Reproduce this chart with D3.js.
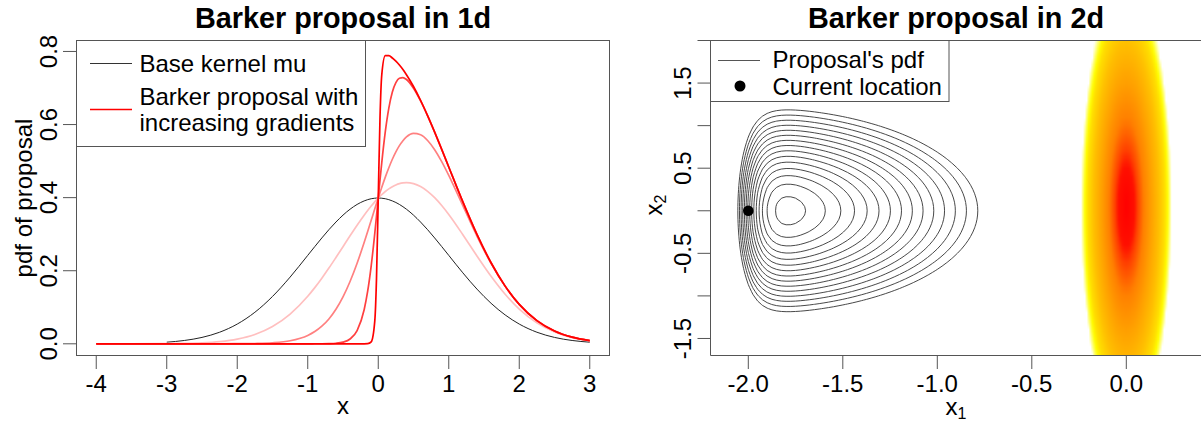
<!DOCTYPE html>
<html><head><meta charset="utf-8">
<script src="https://cdn.jsdelivr.net/npm/d3@7"></script>
<style>
body{margin:0;background:#fff;}
svg{display:block;font-family:"Liberation Sans",Arial,Helvetica,sans-serif;}
</style></head><body>
<svg id="c" width="1201" height="421"></svg>
<script>
// ================= DATA: left panel (1d) =================
const xGrid = [-4,-3.5,-3,-2.75,-2.5,-2.25,-2,-1.75,-1.5,-1.25,-1,-0.9,-0.8,-0.7,-0.6,-0.5,-0.4,-0.3,-0.2,-0.15,
  -0.1,-0.05,-0.025,0,0.025,0.05,0.1,0.15,0.2,0.25,0.3,0.35,0.4,0.5,0.6,0.7,0.8,0.9,1,1.2,1.4,1.6,1.8,2,2.25,2.5,2.75,3];
const baseKernel = [null,null,.0044,.0091,.0175,.0317,.0540,.0863,.1295,.1826,.2420,.2661,.2897,.3123,.3332,.3521,.3683,.3814,.3910,.3945,
  .3970,.3984,.3988,.3989,.3988,.3984,.3970,.3945,.3910,.3867,.3814,.3752,.3683,.3521,.3332,.3123,.2897,.2661,.2420,.1942,.1497,.1109,.0790,.0540,.0317,.0175,.0091,.0044];
const barkerGrad1 = [.0000,.0001,.0004,.0011,.0027,.0061,.0129,.0255,.0473,.0814,.1302,.1538,.1796,.2072,.2362,.2658,.2956,.3246,.3521,.3649,
  .3771,.3885,.3938,.3989,.4038,.4084,.4168,.4240,.4300,.4348,.4382,.4402,.4410,.4383,.4303,.4173,.3998,.3783,.3538,.2985,.2402,.1846,.1355,.0951,.0574,.0324,.0171,.0084];
const barkerGrad3 = [0,0,0,0,0,.0001,.0003,.0009,.0028,.0084,.0230,.0335,.0482,.0681,.0945,.1285,.1705,.2205,.2771,.3072,
  .3379,.3686,.3839,.3989,.4138,.4283,.4561,.4818,.5050,.5252,.5423,.5559,.5660,.5757,.5719,.5564,.5312,.4987,.4610,.3780,.2950,.2200,.1572,.1077,.0634,.0350,.0182,.0089];
const barkerGrad10 = [0,0,0,0,0,0,0,0,0,0,.0000,.0001,.0002,.0006,.0016,.0047,.0132,.0362,.0932,.1439,
  .2135,.3009,.3492,.3989,.4484,.4960,.5804,.6450,.6889,.7147,.7266,.7285,.7233,.6994,.6648,.6239,.5792,.5321,.4839,.3884,.2995,.2218,.1579,.1080,.0635,.0351,.0182,.0089];
const barkerGrad50 = [0,0,0,0,0,0,0,0,0,0,0,0,0,0,0,0,0,0,.0000,.0004,
  .0053,.0605,.1776,.3989,.6200,.7364,.7886,.7885,.7821,.7733,.7628,.7505,.7365,.7041,.6665,.6245,.5794,.5322,.4839,.3884,.2995,.2218,.1579,.1080,.0635,.0351,.0182,.0089];
const barkerSeries = [barkerGrad1, barkerGrad3, barkerGrad10, barkerGrad50];
const barkerColors = ["#ffbfbf","#ff8080","#ff4040","#ff0000"];
const leftXTicks = [-4,-3,-2,-1,0,1,2,3];
const leftYTicks = [0,0.2,0.4,0.6,0.8];

// ================= DATA: right panel (2d) =================
// proposal marginal in x1 (relative density), x1 = -2.15 ... -0.65 step 0.025
const propFx = [.1401,.2006,.2790,.3743,.4813,.5917,.6955,.7851,.8568,.9101,
  .9477,.9727,.9880,.9964,.9997,.9995,.9966,.9917,.9854,.9779,
  .9695,.9602,.9502,.9396,.9284,.9166,.9043,.8916,.8784,.8648,
  .8508,.8365,.8218,.8069,.7916,.7761,.7604,.7445,.7284,.7121,
  .6958,.6793,.6628,.6462,.6296,.6130,.5965,.5800,.5635,.5471,
  .5308,.5147,.4987,.4829,.4673,.4518,.4365,.4215,.4067,.3922,.3779];
// proposal marginal in x2 (relative density), x2 = -1.5 ... 1.5 step 0.05
const propGy = [.2869,.3113,.3370,.3637,.3914,.4201,.4497,.4800,.5109,.5423,.5741,.6060,.6379,.6697,.7010,.7318,.7619,.7910,.8189,.8454,
  .8704,.8937,.9150,.9343,.9513,.9659,.9780,.9876,.9945,.9986,1,.9986,.9945,.9876,.9780,.9659,.9513,.9343,.9150,.8937,
  .8704,.8454,.8189,.7910,.7619,.7318,.7010,.6697,.6379,.6060,.5741,.5423,.5109,.4800,.4497,.4201,.3914,.3637,.3370,.3113,.2869];
const propX1 = d3.range(propFx.length).map(i => -2.15 + i*0.025);
const propX2 = d3.range(propGy.length).map(j => -1.5 + j*0.05);
const contourLevels = [.4585,.4961,.5337,.5712,.6088,.6464,.6839,.7215,.7591,.7967,.8342,.8718,.9094,.9470,.9845];
const currentLocation = [-2.0, 0.0];
// target potential (scaled) along x1 (-0.25..0.25 step .01) and x2 (-1.7..2.0 step .1)
const targetPotX = [1.1034,1.0169,.9339,.8545,.7785,.7062,.6373,.5720,.5102,.4519,.3972,.3460,.2984,.2542,.2136,.1765,.1430,.1130,.0865,.0636,.0441,.0282,.0159,.0071,.0018,0,
  .0018,.0071,.0159,.0282,.0441,.0636,.0865,.1130,.1430,.1765,.2136,.2542,.2984,.3460,.3972,.4519,.5102,.5720,.6373,.7062,.7785,.8545,.9339,1.0169,1.1034];
const targetPotY = [.4361,.3877,.3421,.2994,.2595,.2225,.1883,.1570,.1285,.1029,.0801,.0602,.0431,.0288,.0174,.0089,.0032,.0004,
  .0004,.0032,.0089,.0174,.0288,.0431,.0602,.0801,.1029,.1285,.1570,.1883,.2225,.2595,.2994,.3421,.3877,.4361,.4874,.5415];
const heatX1 = d3.range(targetPotX.length).map(i => -0.25 + i*0.01);
const heatX2 = d3.range(targetPotY.length).map(j => -1.7 + j*0.1);
const rightXTicks = [-2.0,-1.5,-1.0,-0.5,0.0];
const rightYTicks = [-1.5,-1.0,-0.5,0.0,0.5,1.0,1.5,2.0];
const rightYLabels = [-1.5,-0.5,0.5,1.5];

// ================= DRAW =================
const svg = d3.select("#c");
const AX = "#555";
const defs = svg.append("defs");

// ---------- Left panel ----------
const lx = d3.scaleLinear().domain([-4.28, 3.28]).range([76.5, 609.5]);
const ly = d3.scaleLinear().domain([-0.032, 0.830]).range([355.5, 40.5]);
defs.append("clipPath").attr("id","clipL").append("rect")
  .attr("x",76.5).attr("y",40.5).attr("width",533).attr("height",315);
const gL = svg.append("g").attr("clip-path","url(#clipL)");
const line = d3.line().defined(d => d[1] != null).x(d => lx(d[0])).y(d => ly(d[1])).curve(d3.curveMonotoneX);
gL.append("path").attr("d", line(xGrid.map((x,i)=>[x, baseKernel[i]])))
  .attr("fill","none").attr("stroke","#222").attr("stroke-width",1);
barkerSeries.forEach((s,k) => {
  gL.append("path").attr("d", line(xGrid.map((x,i)=>[x, s[i]])))
    .attr("fill","none").attr("stroke",barkerColors[k]).attr("stroke-width",1.7);
});
svg.append("rect").attr("x",76.5).attr("y",40.5).attr("width",533).attr("height",315)
  .attr("fill","none").attr("stroke",AX);
leftXTicks.forEach(t => {
  svg.append("line").attr("x1",lx(t)).attr("x2",lx(t)).attr("y1",355.5).attr("y2",369).attr("stroke",AX);
  svg.append("text").attr("x",lx(t)).attr("y",392).attr("text-anchor","middle").attr("font-size",24).text(String(t));
});
leftYTicks.forEach(t => {
  svg.append("line").attr("x1",63).attr("x2",76.5).attr("y1",ly(t)).attr("y2",ly(t)).attr("stroke",AX);
  svg.append("text").attr("transform",`translate(57,${ly(t)}) rotate(-90)`).attr("text-anchor","middle")
    .attr("font-size",24).text(t.toFixed(1));
});
svg.append("text").attr("x",343).attr("y",28).attr("text-anchor","middle").attr("font-size",28.8)
  .attr("font-weight","bold").text("Barker proposal in 1d");
svg.append("text").attr("x",343).attr("y",414).attr("text-anchor","middle").attr("font-size",24).text("x");
svg.append("text").attr("transform","translate(32,198) rotate(-90)").attr("text-anchor","middle")
  .attr("font-size",24).text("pdf of proposal");
// legend
svg.append("rect").attr("x",76.5).attr("y",40.5).attr("width",289).attr("height",106)
  .attr("fill","#fff").attr("stroke",AX);
svg.append("line").attr("x1",90).attr("x2",132).attr("y1",63.5).attr("y2",63.5).attr("stroke","#333");
svg.append("text").attr("x",139.5).attr("y",72).attr("font-size",24).text("Base kernel mu");
svg.append("line").attr("x1",90).attr("x2",132).attr("y1",109.5).attr("y2",109.5).attr("stroke","#ff0000").attr("stroke-width",1.5);
svg.append("text").attr("x",139.5).attr("y",105).attr("font-size",24).text("Barker proposal with");
svg.append("text").attr("x",139.5).attr("y",131).attr("font-size",24).text("increasing gradients");

// ---------- Right panel ----------
const rx = d3.scaleLinear().domain([-2.2, 0.4]).range([710.5, 1201.9]);
const ry = d3.scaleLinear().domain([-1.7, 2.0]).range([355.5, 40.5]);
defs.append("clipPath").attr("id","clipR").append("rect")
  .attr("x",710.5).attr("y",40.5).attr("width",492).attr("height",315);
const gR = svg.append("g").attr("clip-path","url(#clipR)");
const heatColor = d3.scaleLinear()
  .domain([0, .18, .25, .39, .55, .73, .86, .92, 1])
  .range(["#ff0000","#ff1000","#ff4000","#ff8000","#ffa000","#ffc000","#ffe000","#ffff00","#ffffd0"]);
// heat cells rendered as a smoothly-scaled raster, one pixel per data cell
const cw = heatX1.length, ch = heatX2.length;
const cv = document.createElement("canvas"); cv.width = cw; cv.height = ch;
const ctx = cv.getContext("2d");
const img = ctx.createImageData(cw, ch);
heatX2.forEach((y,j) => heatX1.forEach((x,i) => {
  const rho = Math.sqrt(targetPotX[i] + targetPotY[j]);
  const k = ((ch-1-j)*cw + i)*4;
  if (rho <= 1) {
    const c = d3.rgb(heatColor(rho));
    img.data[k]=c.r; img.data[k+1]=c.g; img.data[k+2]=c.b; img.data[k+3]=255;
  } else {
    img.data[k]=255; img.data[k+1]=255; img.data[k+2]=210; img.data[k+3]=0;
  }
}));
ctx.putImageData(img,0,0);
const hx0 = rx(heatX1[0]-0.005), hx1 = rx(heatX1[cw-1]+0.005);
const hy0 = ry(heatX2[ch-1]+0.05), hy1 = ry(heatX2[0]-0.05);
gR.append("image").attr("href", cv.toDataURL()).attr("x",hx0).attr("y",hy0)
  .attr("width",hx1-hx0).attr("height",hy1-hy0).attr("preserveAspectRatio","none")
  .style("image-rendering","auto");
// contours
const nx = propFx.length, ny = propGy.length;
const vals = new Array(nx*ny);
for (let j=0;j<ny;j++) for (let i=0;i<nx;i++) vals[i + j*nx] = propFx[i]*propGy[j];
const cont = d3.contours().size([nx, ny]).thresholds(contourLevels)(vals);
const dx1 = propX1[1]-propX1[0], dx2 = propX2[1]-propX2[0];
const proj = d3.geoTransform({point(x, y){
  this.stream.point(rx(propX1[0] + (x-0.5)*dx1), ry(propX2[0] + (y-0.5)*dx2));
}});
const gp = d3.geoPath(proj);
gR.append("g").selectAll("path").data(cont).join("path")
  .attr("d", gp).attr("fill","none").attr("stroke","#333").attr("stroke-width",0.9);
gR.append("circle").attr("cx",rx(currentLocation[0])).attr("cy",ry(currentLocation[1])).attr("r",5.3).attr("fill","#000");
svg.append("path").attr("d","M1205,40.5H710.5V355.5H1205").attr("fill","none").attr("stroke",AX);
rightXTicks.forEach(t => {
  svg.append("line").attr("x1",rx(t)).attr("x2",rx(t)).attr("y1",355.5).attr("y2",369).attr("stroke",AX);
  svg.append("text").attr("x",rx(t)).attr("y",392).attr("text-anchor","middle").attr("font-size",24).text(t.toFixed(1));
});
rightYTicks.forEach(t => {
  svg.append("line").attr("x1",697.5).attr("x2",710.5).attr("y1",ry(t)).attr("y2",ry(t)).attr("stroke",AX);
});
rightYLabels.forEach(t => {
  svg.append("text").attr("transform",`translate(691,${ry(t)}) rotate(-90)`).attr("text-anchor","middle")
    .attr("font-size",24).text(t.toFixed(1));
});
svg.append("text").attr("x",956).attr("y",28).attr("text-anchor","middle").attr("font-size",28.8)
  .attr("font-weight","bold").text("Barker proposal in 2d");
const xl1 = svg.append("text").attr("x",956).attr("y",415).attr("text-anchor","middle").attr("font-size",24);
xl1.append("tspan").text("x");
xl1.append("tspan").attr("font-size",16).attr("dy",4).text("1");
const xl2 = svg.append("text").attr("transform","translate(662,205) rotate(-90)").attr("text-anchor","middle").attr("font-size",24);
xl2.append("tspan").text("x");
xl2.append("tspan").attr("font-size",16).attr("dy",4).text("2");
// legend
svg.append("rect").attr("x",710.5).attr("y",40.5).attr("width",238.5).attr("height",61)
  .attr("fill","#fff").attr("stroke",AX);
svg.append("line").attr("x1",718).attr("x2",760).attr("y1",60.5).attr("y2",60.5).attr("stroke","#555");
svg.append("text").attr("x",772.5).attr("y",68).attr("font-size",24).text("Proposal's pdf");
svg.append("circle").attr("cx",740).attr("cy",86).attr("r",5.5).attr("fill","#000");
svg.append("text").attr("x",772.5).attr("y",94.5).attr("font-size",24).text("Current location");
</script>
</body></html>
